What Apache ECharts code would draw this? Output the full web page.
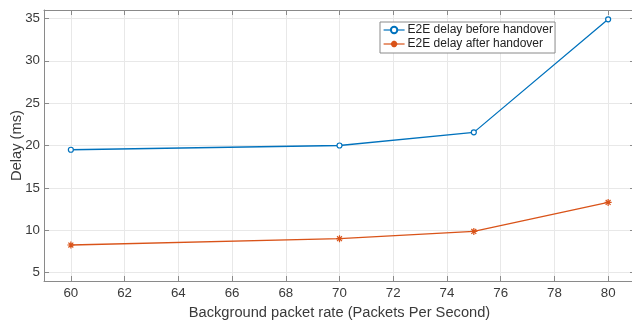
<!DOCTYPE html>
<html>
<head>
<meta charset="utf-8">
<script src="https://cdn.jsdelivr.net/npm/echarts@6/dist/echarts.min.js"></script>
<style>html,body{margin:0;padding:0;background:#fff;}#c{width:632px;height:324px;}</style>
</head>
<body>
<div id="c"></div>
<script>
var rates = [60, 70, 75, 80];
var beforeHandover = [19.5, 20.0, 21.55, 34.9];
var afterHandover = [8.25, 9.0, 9.85, 13.28];
var seriesNames = ['E2E delay before handover', 'E2E delay after handover'];
var xName = 'Background packet rate (Packets Per Second)';
var yName = 'Delay (ms)';

var FONT = 'Liberation Sans, Arial, Helvetica, sans-serif';
var axisCol = '#8a8a8a';
var gridCol = '#e8e8e8';
var txtCol = '#3a3a3a';
var asterisk = 'path://M0,5L10,5M5,0L5,10M1.5,1.5L8.5,8.5M1.5,8.5L8.5,1.5';

function pairs(xs, ys) { return xs.map(function (x, i) { return [x, ys[i]]; }); }

var chart = echarts.init(document.getElementById('c'), null, {renderer: 'canvas'});
var xBase = {
  type: 'value', min: 59, max: 81, splitNumber: 11,
  axisLine: {show: true, onZero: false, lineStyle: {color: axisCol, width: 1}},
  axisTick: {show: true, inside: true, length: 5, lineStyle: {color: axisCol}}
};
var yBase = {
  type: 'value', min: 4, max: 36, splitNumber: 6,
  axisLine: {show: true, onZero: false, lineStyle: {color: axisCol, width: 1}},
  axisTick: {show: true, inside: true, length: 5, lineStyle: {color: axisCol}}
};
chart.setOption({
  animation: false,
  backgroundColor: '#ffffff',
  textStyle: {fontFamily: FONT},
  grid: {left: 44, top: 10, right: -3, bottom: 43, outerBoundsMode: 'none', containLabel: false},
  legend: {
    orient: 'vertical', left: 380, top: 22,
    data: seriesNames,
    backgroundColor: '#ffffff', borderColor: '#8a8a8a', borderWidth: 1, borderRadius: 0,
    padding: [1, 2, 2, 3], itemGap: 0, itemWidth: 21, itemHeight: 8,
    lineStyle: {width: 1.2},
    textStyle: {fontSize: 12, color: '#222', fontFamily: FONT, padding: [0, 0, 0, -2], lineHeight: 14}
  },
  xAxis: [
    Object.assign({}, xBase, {
      position: 'bottom',
      name: xName, nameLocation: 'middle', nameGap: 24,
      nameTextStyle: {fontSize: 14.67, color: txtCol, fontFamily: FONT},
      axisLabel: {fontSize: 13.3, color: txtCol, margin: 6, showMinLabel: false, showMaxLabel: false, fontFamily: FONT},
      splitLine: {show: true, lineStyle: {color: gridCol, width: 1}}
    }),
    Object.assign({}, xBase, {
      position: 'top', axisLabel: {show: false}, splitLine: {show: false}
    })
  ],
  yAxis: [
    Object.assign({}, yBase, {
      position: 'left',
      name: yName, nameLocation: 'middle', nameGap: 20, nameRotate: 90, nameMoveOverlap: false,
      nameTextStyle: {fontSize: 14.67, color: txtCol, fontFamily: FONT},
      axisLabel: {fontSize: 13.3, color: txtCol, margin: 4, showMinLabel: false, showMaxLabel: false, fontFamily: FONT},
      splitLine: {show: true, lineStyle: {color: gridCol, width: 1}}
    }),
    Object.assign({}, yBase, {
      position: 'right', axisLabel: {show: false}, splitLine: {show: false}
    })
  ],
  series: [
    {
      name: seriesNames[0], type: 'line', xAxisIndex: 0, yAxisIndex: 0,
      data: pairs(rates, beforeHandover),
      symbol: 'circle', symbolSize: 5, showAllSymbol: true,
      lineStyle: {color: '#0072BD', width: 1.3},
      itemStyle: {color: '#ffffff', borderColor: '#0072BD', borderWidth: 1.2}
    },
    {
      name: seriesNames[1], type: 'line', xAxisIndex: 0, yAxisIndex: 0,
      data: pairs(rates, afterHandover),
      symbol: asterisk, symbolSize: 7, showAllSymbol: true,
      lineStyle: {color: '#D95319', width: 1.3},
      itemStyle: {color: 'rgba(0,0,0,0)', borderColor: '#D95319', borderWidth: 1.2}
    }
  ]
});
</script>
</body>
</html>
